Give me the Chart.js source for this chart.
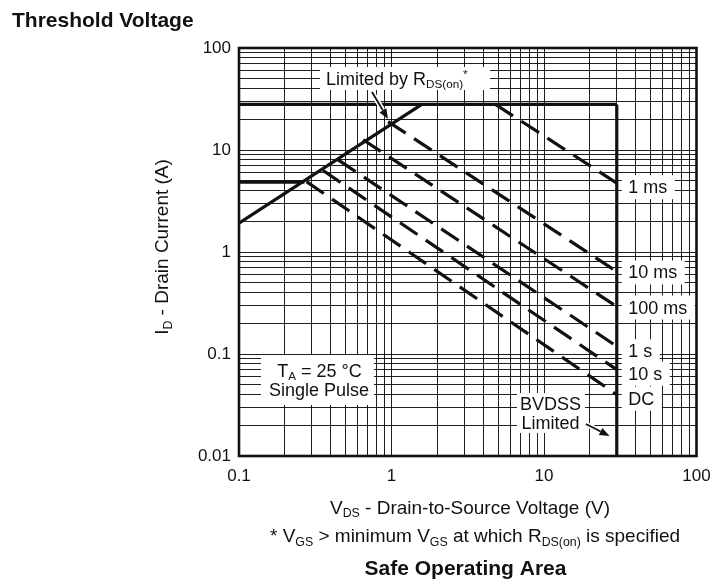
<!DOCTYPE html>
<html>
<head>
<meta charset="utf-8">
<script src="https://cdn.jsdelivr.net/npm/chart.js@4.4.1/dist/chart.umd.min.js"></script>
<style>
  html, body { margin: 0; padding: 0; background: #fff; }
  canvas { display: block; }
</style>
</head>
<body>
<canvas id="soa" width="715" height="579"></canvas>
<script>
// axis decades (labelled ticks), minor grid steps inside a decade
const xTickLabels = ['0.1', '1', '10', '100'];
const yTickLabels = ['0.01', '0.1', '1', '10', '100'];
const minorSteps = [1, 2, 3, 4, 5, 6, 7, 8, 9];

// solid boundaries, V and A
const rdsLimitV = [0.1, 1.58];
const rdsLimitI = [1.92, 28];
const currentLimitV = [0.1, 30];
const currentLimitI = [28, 28];
const bvdssV = [30, 30];
const bvdssI = [28, 0.01];
const dcLimitV = [0.1, 0.268];
const dcLimitI = [4.85, 4.85];

// pulse lines (dashed), start point -> end point at 30 V
const pulseNames = ['1 ms', '10 ms', '100 ms', '1 s', '10 s', 'DC'];
const pulseStartV = [4.8, 0.95, 0.652, 0.447, 0.356, 0.277];
const pulseStartI = [28, 19.0, 12.6, 8.0, 6.29, 4.9];
const pulseEndV = [30, 30, 30, 30, 30, 30];
const pulseEndI = [4.73, 0.644, 0.292, 0.119, 0.0702, 0.0399];

// label baseline offset below each pulse line end (px)
const pulseLabelDy = [10, 7, 7, 11, 10, 10];

const FONT = '"Liberation Sans", Arial, Helvetica, sans-serif';
const INK = '#111';

let line = (xs, ys, dashed) => ({
    data: xs.map((v, i) => ({ x: v, y: ys[i] })),
    borderColor: INK,
    borderWidth: 3.2,
    borderDash: dashed ? [21, 10] : [],
    borderCapStyle: 'butt',
    pointRadius: 0,
    fill: false,
    tension: 0
});

let logGrid = (labels) => {
    const decades = labels.map(Number);
    const ticks = [];
    decades.slice(0, -1).forEach(d => minorSteps.forEach(s => ticks.push({ value: d * s })));
    ticks.push({ value: decades[decades.length - 1] });
    return ticks;
};

let decadeLabel = (labels) => (value) => {
    const hit = labels.find(l => Math.abs(Math.log10(Number(l)) - Math.log10(value)) < 1e-6);
    return hit === undefined ? '' : hit;
};

// text with sub / superscript parts: [text, kind]
let drawRich = (ctx, parts, x, y, size, align) => {
    const small = size * 0.65;
    let w = 0;
    parts.forEach(([t, k]) => {
        ctx.font = (k ? small : size) + 'px ' + FONT;
        w += ctx.measureText(t).width;
    });
    let cx = align === 'center' ? x - w / 2 : (align === 'right' ? x - w : x);
    ctx.textAlign = 'left';
    ctx.textBaseline = 'alphabetic';
    parts.forEach(([t, k]) => {
        ctx.font = (k ? small : size) + 'px ' + FONT;
        const dy = k === 'sub' ? size * 0.2 : (k === 'sup' ? -size * 0.4 : 0);
        ctx.fillText(t, cx, y + dy);
        cx += ctx.measureText(t).width;
    });
    return w;
};

let arrow = (ctx, x1, y1, x2, y2) => {
    const ang = Math.atan2(y2 - y1, x2 - x1);
    const hl = 10, hw = 4;
    const bx = x2 - hl * Math.cos(ang), by = y2 - hl * Math.sin(ang);
    ctx.lineCap = 'butt';
    ctx.strokeStyle = '#fff';
    ctx.lineWidth = 5;
    ctx.beginPath(); ctx.moveTo(x1, y1); ctx.lineTo(bx, by); ctx.stroke();
    ctx.strokeStyle = INK;
    ctx.lineWidth = 1.8;
    ctx.beginPath(); ctx.moveTo(x1, y1); ctx.lineTo(bx, by); ctx.stroke();
    ctx.fillStyle = INK;
    ctx.beginPath();
    ctx.moveTo(x2, y2);
    ctx.lineTo(bx + hw * Math.sin(ang), by - hw * Math.cos(ang));
    ctx.lineTo(bx - hw * Math.sin(ang), by + hw * Math.cos(ang));
    ctx.closePath();
    ctx.fill();
};

const soaText = {
    id: 'soaText',
    beforeDatasetsDraw(chart) {
        const { ctx, chartArea: a, scales: { x, y } } = chart;
        ctx.save();
        ctx.fillStyle = '#fff';
        // Limited by RDS(on) box
        ctx.fillRect(a.left + 81, a.top + 19, 170, 23);
        // T_A box
        ctx.fillRect(a.left + 22, a.top + 307, 113, 50);
        // BVDSS box
        ctx.fillRect(a.left + 278, a.top + 345, 68, 40);
        // pulse label boxes
        const xv = x.getPixelForValue(bvdssV[0]);
        ctx.font = '18px ' + FONT;
        pulseNames.forEach((name, i) => {
            const by = y.getPixelForValue(pulseEndI[i]) + pulseLabelDy[i];
            const w = ctx.measureText(name).width;
            ctx.fillRect(xv + 5, by - 18, w + 14, 24);
        });

        ctx.fillStyle = INK;
        pulseNames.forEach((name, i) => {
            const by = y.getPixelForValue(pulseEndI[i]) + pulseLabelDy[i];
            drawRich(ctx, [[name, '']], xv + 11.5, by, 18, 'left');
        });
        drawRich(ctx, [['Limited by R', ''], ['DS(on)', 'sub'], ['*', 'sup']], a.left + 87, a.top + 36.7, 18, 'left');
        drawRich(ctx, [['T', ''], ['A', 'sub'], [' = 25 \u00B0C', '']], a.left + 80.5, a.top + 328.7, 18, 'center');
        drawRich(ctx, [['Single Pulse', '']], a.left + 80, a.top + 348, 18, 'center');
        drawRich(ctx, [['BVDSS', '']], a.left + 311.5, a.top + 362, 18, 'center');
        drawRich(ctx, [['Limited', '']], a.left + 311.5, a.top + 381.3, 18, 'center');
        ctx.restore();
    },
    afterDatasetsDraw(chart) {
        const { ctx, chartArea: a } = chart;
        ctx.save();
        ctx.strokeStyle = INK;
        ctx.lineWidth = 2.6;
        ctx.strokeRect(a.left, a.top, a.right - a.left, a.bottom - a.top);
        arrow(ctx, a.left + 133, a.top + 44, a.left + 149, a.top + 71);
        arrow(ctx, a.left + 347, a.top + 376, a.left + 370.5, a.top + 388);
        ctx.restore();
    },
    afterDraw(chart) {
        const { ctx } = chart;
        ctx.save();
        ctx.fillStyle = INK;
        ctx.font = 'bold 21px ' + FONT;
        ctx.textAlign = 'left';
        ctx.fillText('Threshold Voltage', 12, 27);
        ctx.textAlign = 'center';
        ctx.fillText('Safe Operating Area', 465.5, 574.5);

        drawRich(ctx, [['V', ''], ['DS', 'sub'], [' - Drain-to-Source Voltage (V)', '']], 470, 513.5, 19, 'center');
        drawRich(ctx, [['* V', ''], ['GS', 'sub'], [' > minimum V', ''], ['GS', 'sub'], [' at which R', ''], ['DS(on)', 'sub'], [' is specified', '']], 475, 542, 19, 'center');

        ctx.translate(168, 247);
        ctx.rotate(-Math.PI / 2);
        drawRich(ctx, [['I', ''], ['D', 'sub'], [' - Drain Current (A)', '']], 0, 0, 19, 'center');
        ctx.restore();
    }
};

let datasets = [
    line(rdsLimitV, rdsLimitI, false),
    line(currentLimitV, currentLimitI, false),
    line(bvdssV, bvdssI, false),
    line(dcLimitV, dcLimitI, false)
];
pulseNames.forEach((name, i) => {
    const ds = line([pulseStartV[i], pulseEndV[i]], [pulseStartI[i], pulseEndI[i]], true);
    ds.label = name;
    datasets.push(ds);
});

const gridStyle = { color: 'rgba(0,0,0,0.88)', lineWidth: 1, drawTicks: false };

const chart = new Chart(document.getElementById('soa'), {
    type: 'line',
    data: { datasets: datasets },
    options: {
        responsive: false,
        animation: false,
        events: [],
        layout: { padding: { top: 48, right: 18.5, bottom: 0, left: 0 } },
        plugins: { legend: { display: false }, tooltip: { enabled: false } },
        scales: {
            x: {
                type: 'logarithmic',
                min: Number(xTickLabels[0]),
                max: Number(xTickLabels[xTickLabels.length - 1]),
                afterBuildTicks: (axis) => { axis.ticks = logGrid(xTickLabels); },
                afterFit: (axis) => {
                    axis.height = 579 - 456;
                    axis.paddingLeft = 0;
                    axis.paddingRight = 0;
                },
                grid: gridStyle,
                border: { display: false },
                ticks: {
                    autoSkip: false, maxRotation: 0, minRotation: 0, padding: 10,
                    color: INK, font: { family: FONT, size: 17 },
                    callback: decadeLabel(xTickLabels)
                }
            },
            y: {
                type: 'logarithmic',
                min: Number(yTickLabels[0]),
                max: Number(yTickLabels[yTickLabels.length - 1]),
                afterBuildTicks: (axis) => { axis.ticks = logGrid(yTickLabels); },
                afterFit: (axis) => {
                    axis.width = 239;
                    axis.paddingTop = 0;
                    axis.paddingBottom = 0;
                },
                grid: gridStyle,
                border: { display: false },
                ticks: {
                    autoSkip: false, padding: 8,
                    color: INK, font: { family: FONT, size: 17 },
                    callback: decadeLabel(yTickLabels)
                }
            }
        }
    },
    plugins: [soaText]
});
</script>
</body>
</html>
